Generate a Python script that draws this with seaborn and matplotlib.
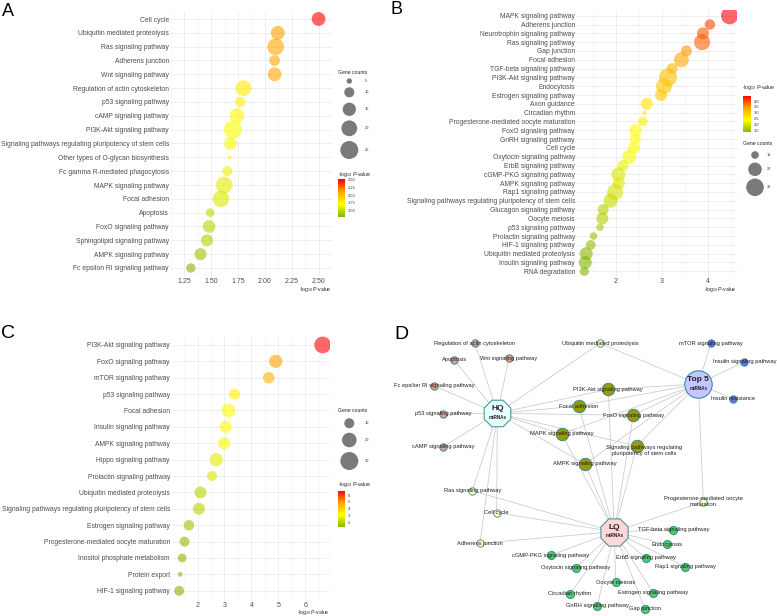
import numpy as np
import pandas as pd
import matplotlib
matplotlib.use("Agg")
import matplotlib.pyplot as plt
import seaborn as sns
from matplotlib.colors import LinearSegmentedColormap, Normalize
from matplotlib.cm import ScalarMappable

sns.set_theme(style="white")
plt.rcParams['font.family'] = ['Liberation Sans', 'DejaVu Sans']
plt.rcParams['mathtext.fontset'] = 'custom'
plt.rcParams['mathtext.rm'] = 'Liberation Sans'
plt.rcParams['mathtext.it'] = 'Liberation Sans:italic'

# ---------------- data ----------------
pathways_A = ["Cell cycle", "Ubiquitin mediated proteolysis", "Ras signaling pathway", "Adherens junction",
              "Wnt signaling pathway", "Regulation of actin cytoskeleton", "p53 signaling pathway",
              "cAMP signaling pathway", "PI3K-Akt signaling pathway",
              "Signaling pathways regulating pluripotency of stem cells", "Other types of O-glycan biosynthesis",
              "Fc gamma R-mediated phagocytosis", "MAPK signaling pathway", "Focal adhesion", "Apoptosis",
              "FoxO signaling pathway", "Sphingolipid signaling pathway", "AMPK signaling pathway",
              "Fc epsilon RI signaling pathway"]
logp_A = [2.50, 2.12, 2.10, 2.09, 2.09, 1.80, 1.77, 1.74, 1.70, 1.68, 1.67, 1.65, 1.62, 1.59, 1.49, 1.48, 1.46, 1.40, 1.31]
counts_A = [16, 16, 22, 11, 16, 20, 10, 18, 25, 14, 4, 10, 22, 22, 8, 14, 13, 13, 9]

pathways_B = ["MAPK signaling pathway", "Adherens junction", "Neurotrophin signaling pathway", "Ras signaling pathway",
              "Gap junction", "Focal adhesion", "TGF-beta signaling pathway", "PI3K-Akt signaling pathway",
              "Endocytosis", "Estrogen signaling pathway", "Axon guidance", "Circadian rhythm",
              "Progesterone-mediated oocyte maturation", "FoxO signaling pathway", "GnRH signaling pathway",
              "Cell cycle", "Oxytocin signaling pathway", "ErbB signaling pathway", "cGMP-PKG signaling pathway",
              "AMPK signaling pathway", "Rap1 signaling pathway",
              "Signaling pathways regulating pluripotency of stem cells", "Glucagon signaling pathway",
              "Oocyte meiosis", "p53 signaling pathway", "Prolactin signaling pathway", "HIF-1 signaling pathway",
              "Ubiquitin mediated proteolysis", "Insulin signaling pathway", "RNA degradation"]
logp_B = [4.47, 4.04, 3.89, 3.87, 3.53, 3.42, 3.22, 3.13, 3.04, 2.98, 2.67, 2.62, 2.58, 2.42, 2.42, 2.39, 2.29,
          2.15, 2.05, 2.06, 1.98, 1.88, 1.72, 1.70, 1.65, 1.51, 1.45, 1.35, 1.33, 1.31]
counts_B = [29, 14, 17, 26, 15, 23, 15, 31, 26, 17, 17, 7, 13, 17, 15, 17, 21, 15, 21, 17, 26, 21, 15, 17, 10,
            10, 13, 19, 19, 12]

pathways_C = ["PI3K-Akt signaling pathway", "FoxO signaling pathway", "mTOR signaling pathway", "p53 signaling pathway",
              "Focal adhesion", "Insulin signaling pathway", "AMPK signaling pathway", "Hippo signaling pathway",
              "Prolactin signaling pathway", "Ubiquitin mediated proteolysis",
              "Signaling pathways regulating pluripotency of stem cells", "Estrogen signaling pathway",
              "Progesterone-mediated oocyte maturation", "Inositol phosphate metabolism", "Protein export",
              "HIF-1 signaling pathway"]
logp_C = [6.64, 4.90, 4.64, 3.37, 3.15, 3.05, 2.99, 2.69, 2.54, 2.11, 2.05, 1.68, 1.52, 1.43, 1.36, 1.32]
counts_C = [26, 17, 13, 12, 18, 14, 14, 17, 10, 14, 14, 11, 10, 8, 3, 10]

xticks_A = [1.25, 1.50, 1.75, 2.00, 2.25, 2.50]
xticks_B = [2, 3, 4]
xticks_C = [2, 3, 4, 5, 6]
legend_counts_A = [5, 10, 15, 20, 25]
legend_counts_B = [10, 20, 30]
legend_counts_C = [10, 20, 30]
cbar_ticks_A = [1.50, 1.75, 2.00, 2.25, 2.50]
cbar_ticks_B = [1.5, 2.0, 2.5, 3.0, 3.5, 4.0]
cbar_ticks_C = [2, 3, 4, 5, 6]

# network (panel D)
node_names = ["HQ", "Top 5", "LQ",
              "Regulation of actin cytoskeleton", "Apoptosis", "Wnt signaling pathway",
              "Fc epsilon RI signaling pathway", "p53 signaling pathway", "cAMP signaling pathway",
              "Ubiquitin mediated proteolysis", "Ras signaling pathway", "Cell cycle", "Adherens junction",
              "Progesterone-mediated oocyte\nmaturation",
              "PI3K-Akt signaling pathway", "Focal adhesion", "FoxO signaling pathway", "MAPK signaling pathway",
              "Signaling pathways regulating\npluripotency of stem cells", "AMPK signaling pathway",
              "mTOR signaling pathway", "Insulin signaling pathway", "Insulin resistance",
              "TGF-beta signaling pathway", "Endocytosis", "cGMP-PKG signaling pathway", "ErbB signaling pathway",
              "Rap1 signaling pathway", "Oxytocin signaling pathway", "Oocyte meiosis", "Circadian rhythm",
              "Estrogen signaling pathway", "GnRH signaling pathway", "Gap junction"]
node_group = ["hubHQ", "hubTop", "hubLQ",
              "HQ", "HQ", "HQ", "HQ", "HQ", "HQ",
              "two", "two", "two", "two", "two",
              "all", "all", "all", "all", "all", "all",
              "top", "top", "top",
              "LQ", "LQ", "LQ", "LQ", "LQ", "LQ", "LQ", "LQ", "LQ", "LQ", "LQ"]
node_x = [497.3, 698.3, 614.3,
          475.0, 454.3, 509.0, 434.3, 443.3, 443.3,
          600.0, 472.3, 496.7, 480.0, 703.3,
          608.3, 578.7, 633.3, 561.7, 636.7, 585.0,
          711.0, 744.3, 733.3,
          673.3, 666.7, 551.0, 645.7, 685.0, 575.7, 615.7, 570.0, 653.3, 597.3, 645.0]
node_y = [413.3, 384.0, 531.7,
          343.3, 360.0, 358.3, 386.0, 414.0, 446.7,
          343.3, 490.7, 512.7, 543.3, 501.7,
          389.3, 406.0, 415.3, 434.0, 446.0, 464.0,
          343.3, 361.7, 399.0,
          530.0, 544.3, 555.0, 557.7, 566.7, 567.7, 582.3, 594.0, 592.7, 606.0, 608.7]

hq_targets = [3, 4, 5, 6, 7, 8, 9, 10, 11, 12, 14, 15, 16, 17, 18, 19]
top_targets = [9, 13, 14, 15, 16, 17, 18, 19, 20, 21, 22]
lq_targets = [10, 11, 12, 13, 14, 15, 16, 17, 18, 19, 23, 24, 25, 26, 27, 28, 29, 30, 31, 32, 33]

# ---------------- figure ----------------
W, H = 777, 616
fig = plt.figure(figsize=(W / 100, H / 100), dpi=100)


def px_axes(l, t, r, b):
    return fig.add_axes([l / W, 1 - b / H, (r - l) / W, (b - t) / H])


def ftext(x, y, s, **kw):
    fig.text(x / W, 1 - y / H, s, **kw)


cmap = LinearSegmentedColormap.from_list("pv", ["#86B300", "#FFFF00", "#FFA500", "#FF0000"])
xlab = r"-log$_{10}$ $\mathit{P}$-value"


def dot_panel(rect, names, logp, counts, xlim, xticks, xticklabels, smap):
    ax = px_axes(*rect)
    df = pd.DataFrame({"pathway": names, "logp": logp, "count": counts})
    cmin, cmax, smin, smax = smap
    sns.scatterplot(data=df, x="logp", y="pathway", hue="logp", palette=cmap,
                    hue_norm=(min(logp), max(logp)), size="count", sizes=(smin, smax),
                    size_norm=(cmin, cmax), alpha=0.6, linewidth=0, legend=False, ax=ax, zorder=3)
    ax.set_xlim(*xlim)
    ax.set_ylim(len(names) - 0.4, -0.6)
    ax.set_yticks(range(len(names)))
    ax.set_yticklabels(names)
    ax.set_xticks(xticks)
    ax.set_xticklabels(xticklabels)
    mids = [(a + b) / 2 for a, b in zip(xticks[:-1], xticks[1:])]
    step = xticks[1] - xticks[0]
    mids = [xticks[0] - step / 2] + mids + [xticks[-1] + step / 2]
    ax.set_xticks(mids, minor=True)
    ax.grid(which="major", color="#EBEBEB", lw=0.55)
    ax.grid(which="minor", axis="x", color="#F4F4F4", lw=0.4)
    ax.set_axisbelow(True)
    ax.tick_params(axis="y", which="both", length=0, labelsize=4.85, labelcolor="#4D4D4D", pad=1.5)
    ax.tick_params(axis="x", which="both", length=0, labelsize=5.0, labelcolor="#4D4D4D", pad=1.0)
    for s in ax.spines.values():
        s.set_visible(False)
    ax.set_xlabel("")
    ax.set_ylabel("")
    return ax


def size_of(c, smap):
    cmin, cmax, smin, smax = smap
    return smin + (c - cmin) / (cmax - cmin) * (smax - smin)


def size_legend(x, ys, counts, smap, title_xy, label_x):
    ax = px_axes(0, 0, W, H)
    ax.set_xlim(0, W)
    ax.set_ylim(H, 0)
    ax.axis("off")
    ax.scatter([x] * len(ys), ys, s=[size_of(c, smap) for c in counts], color="#7A7A7A", linewidths=0)
    for yy, c in zip(ys, counts):
        ax.text(label_x, yy, str(c), fontsize=2.9, color="#333333", va="center", ha="left")
    ax.text(title_xy[0], title_xy[1], "Gene counts", fontsize=3.7, color="#222222", va="center", ha="left")


def cbar(rect, vmin, vmax, ticks, labels, title_xy):
    cax = px_axes(*rect)
    cb = fig.colorbar(ScalarMappable(norm=Normalize(vmin, vmax), cmap=cmap), cax=cax)
    cb.outline.set_visible(False)
    cb.set_ticks(ticks)
    cb.set_ticklabels(labels)
    cax.tick_params(labelsize=2.9, length=0, pad=2.2, labelcolor="#333333")
    ftext(title_xy[0], title_xy[1], xlab, fontsize=3.7, color="#222222", va="center", ha="left")


smap_A = (4, 28, 7.35, 190.95)
smap_B = (6, 35, 4.0, 192.5)
smap_C = (2, 30, 5.6, 168.0)

# Panel A
dot_panel((171, 10.7, 332, 276.3), pathways_A, logp_A, counts_A, (1.245, 2.56), xticks_A,
          ["%.2f" % v for v in xticks_A], smap_A)
ftext(332, 289.5, xlab, fontsize=3.6, color="#222222", ha="right", va="center")
size_legend(349.3, [81, 92.3, 109.3, 128.3, 150], legend_counts_A, smap_A, (338.3, 72.7), 364.5)
cbar((338.3, 179.3, 345, 216.7), min(logp_A), max(logp_A), cbar_ticks_A,
     ["%.2f" % v for v in cbar_ticks_A], (337.5, 174))

# Panel B
dot_panel((577, 10.4, 737, 276.6), pathways_B, logp_B, counts_B, (1.15, 4.63), xticks_B,
          [str(v) for v in xticks_B], smap_B)
ftext(737, 290, xlab, fontsize=3.6, color="#222222", ha="right", va="center")
cbar((743.3, 95.7, 750.7, 132.3), min(logp_B), max(logp_B), cbar_ticks_B,
     ["%.1f" % v for v in cbar_ticks_B], (741.5, 88))
size_legend(755, [155, 169.3, 187.3], legend_counts_B, smap_B, (742.7, 143.3), 767)

# Panel C
dot_panel((172, 335.1, 329.8, 600.6), pathways_C, logp_C, counts_C, (1.054, 6.906), xticks_C,
          [str(v) for v in xticks_C], smap_C)
ftext(329.8, 612.8, xlab, fontsize=3.6, color="#222222", ha="right", va="center")
size_legend(349.3, [423.3, 440, 461], legend_counts_C, smap_C, (338.3, 410.7), 364.5)
cbar((338.3, 490.7, 345, 527.3), min(logp_C), max(logp_C), cbar_ticks_C,
     [str(v) for v in cbar_ticks_C], (337.5, 484.3))

# Panel D network
axd = px_axes(390, 310, W, H)
axd.set_xlim(390, W)
axd.set_ylim(H, 310)
axd.axis("off")
edges = [(0, t) for t in hq_targets] + [(1, t) for t in top_targets] + [(2, t) for t in lq_targets]
for a, b in edges:
    axd.plot([node_x[a], node_x[b]], [node_y[a], node_y[b]], color="#C9C9C9", lw=0.55, zorder=1)

group_style = {
    "HQ": dict(marker="o", s=28, color="#EE9A88", ec="#2F8F8F"),
    "two": dict(marker="o", s=28, color="#FFFFC8", ec="#4FA07A"),
    "all": dict(marker="o", s=80, color="#9A9A00", ec="#3C8C8C"),
    "top": dict(marker="o", s=28, color="#6A6AE6", ec="#2F8F8F"),
    "LQ": dict(marker="o", s=34, color="#55C86A", ec="#2F8F8F"),
    "hubHQ": dict(marker="8", s=430, color="#E8FFFF", ec="#2F8F8F"),
    "hubTop": dict(marker="o", s=390, color="#C5C5FF", ec="#2E7DA0"),
    "hubLQ": dict(marker="8", s=450, color="#FFD7D7", ec="#2F8F8F"),
}
for g, st in group_style.items():
    idx = [i for i, gg in enumerate(node_group) if gg == g]
    axd.scatter([node_x[i] for i in idx], [node_y[i] for i in idx], marker=st["marker"], s=st["s"],
                facecolor=st["color"], edgecolor=st["ec"], linewidths=0.7, zorder=3)

for i, nm in enumerate(node_names):
    g = node_group[i]
    if g.startswith("hub"):
        continue
    dx = 7 if nm.startswith("Signaling pathways") else 0
    dy = 4.5 if nm.startswith("Signaling pathways") else 0
    axd.text(node_x[i] + dx, node_y[i] + dy, nm, fontsize=4.15, color="#222222", ha="center", va="center",
             linespacing=1.25, zorder=4)

hub_labels = {0: ("HQ", "miRNAs"), 1: ("Top 5", "miRNAs"), 2: ("LQ", "miRNAs")}
for i, (t1, t2) in hub_labels.items():
    axd.text(node_x[i], node_y[i] - 4.5, t1, fontsize=6.0, fontweight="bold", color="#222222",
             ha="center", va="center", zorder=5)
    axd.text(node_x[i], node_y[i] + 4.2, t2, fontsize=3.3, fontweight="bold", color="#222222",
             ha="center", va="center", zorder=5)

# panel letters
ftext(8, 11.5, "A", fontsize=13, color="black", ha="center", va="center")
ftext(396, 10, "B", fontsize=13, color="black", ha="center", va="center")
ftext(8.5, 333, "C", fontsize=14, color="black", ha="center", va="center")
ftext(401, 334.5, "D", fontsize=14, color="black", ha="center", va="center")

fig.savefig("out.png", dpi=100)
